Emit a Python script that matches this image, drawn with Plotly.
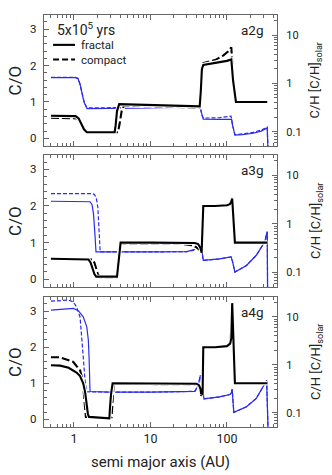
import plotly.graph_objects as go

# ---------------- data ----------------
# a2g
a2g_frac_x = [0.5, 0.95, 1.05, 1.15, 1.25, 1.35, 1.47, 3.4, 3.5, 3.65, 3.9, 10, 20, 44, 45.5, 47, 49, 60, 80, 100, 114, 120, 131, 200, 336]
a2g_frac_co = [0.62, 0.62, 0.61, 0.55, 0.40, 0.25, 0.17, 0.17, 0.35, 0.75, 0.94, 0.92, 0.90, 0.88, 1.3, 1.9, 2.02, 2.05, 2.09, 2.13, 2.17, 1.6, 1.0, 1.0, 1.0]
a2g_comp_x = [0.5, 1.0, 1.1, 1.2, 1.3, 1.4, 1.55, 3.75, 3.95, 4.2, 4.5, 10, 20, 44, 45.5, 47, 49, 70, 90, 105, 114, 120, 131, 200, 336]
a2g_comp_co = [0.57, 0.57, 0.55, 0.48, 0.34, 0.22, 0.17, 0.17, 0.4, 0.75, 0.9, 0.88, 0.87, 0.85, 1.3, 1.95, 2.07, 2.15, 2.28, 2.4, 2.5, 1.7, 1.0, 1.0, 1.0]
a2g_frac_ch_x = [0.5, 1.05, 1.13, 1.2, 1.28, 1.36, 1.48, 10, 44, 45.5, 47, 49, 80, 115, 119, 124, 127, 160, 220, 280, 336, 346]
a2g_frac_ch = [1.31, 1.31, 1.25, 0.95, 0.6, 0.4, 0.30, 0.31, 0.32, 0.28, 0.22, 0.182, 0.18, 0.18, 0.13, 0.095, 0.085, 0.087, 0.093, 0.103, 0.119, 0.03]
a2g_comp_ch_x = [0.5, 1.05, 1.13, 1.2, 1.28, 1.36, 1.48, 10, 44, 45.5, 47, 49, 80, 113, 118, 124, 127, 160, 220, 280, 336, 346]
a2g_comp_ch = [1.33, 1.33, 1.26, 0.97, 0.62, 0.41, 0.31, 0.32, 0.34, 0.29, 0.22, 0.19, 0.195, 0.21, 0.14, 0.1, 0.087, 0.09, 0.097, 0.108, 0.125, 0.03]

# a3g
a3g_frac_x = [0.5, 1.45, 1.55, 1.65, 1.75, 1.85, 1.95, 3.65, 3.75, 3.9, 4.07, 10, 30, 38, 42, 45, 46.6, 48, 49, 70, 100, 109, 113, 117, 122, 127, 200, 336]
a3g_frac_co = [0.56, 0.56, 0.54, 0.45, 0.30, 0.14, 0.07, 0.07, 0.3, 0.7, 1.0, 1.0, 1.0, 0.99, 0.96, 0.85, 0.72, 1.5, 2.0, 2.0, 2.02, 2.05, 2.1, 2.2, 1.6, 1.0, 1.0, 1.0]
a3g_comp_x = [0.5, 1.65, 1.75, 1.85, 1.95, 2.05, 2.2, 3.6, 3.7, 3.85, 4.0, 10, 25, 35, 40, 44, 46.6, 48, 49, 70, 100, 109, 113, 117, 122, 127, 200, 336]
a3g_comp_co = [0.56, 0.56, 0.54, 0.45, 0.3, 0.14, 0.05, 0.05, 0.3, 0.7, 0.98, 0.98, 0.97, 0.93, 0.87, 0.8, 0.75, 1.5, 2.0, 2.0, 2.02, 2.05, 2.1, 2.2, 1.6, 1.0, 1.0, 1.0]
a3g_frac_ch_x = [0.5, 1.5, 1.62, 1.72, 1.8, 1.88, 1.94, 10, 30, 38, 42, 45, 46.5, 48, 49, 80, 113, 118, 124, 127, 180, 242, 312, 336, 340]
a3g_frac_ch = [2.92, 2.92, 2.85, 2.5, 1.6, 0.6, 0.265, 0.265, 0.27, 0.3, 0.34, 0.4, 0.35, 0.22, 0.178, 0.19, 0.21, 0.17, 0.12, 0.102, 0.14, 0.226, 0.43, 0.69, 0.03]
a3g_comp_ch_x = [0.5, 1.7, 1.84, 1.95, 2.05, 2.12, 2.2, 10, 30, 38, 42, 45, 46.5, 48, 49, 80, 113, 118, 124, 127, 180, 242, 312, 336, 340]
a3g_comp_ch = [4.2, 4.2, 4.05, 3.5, 2.2, 0.8, 0.265, 0.265, 0.27, 0.29, 0.32, 0.36, 0.38, 0.22, 0.178, 0.19, 0.21, 0.17, 0.12, 0.102, 0.14, 0.226, 0.43, 0.69, 0.03]

# a4g
a4g_frac_x = [0.5, 0.66, 0.85, 1.08, 1.2, 1.32, 1.4, 1.46, 1.52, 1.57, 2.0, 2.5, 2.9, 2.95, 3.05, 3.2, 10, 30, 40, 43, 45, 46, 47, 48, 49, 70, 100, 110, 114, 117, 119, 122, 127, 200, 336]
a4g_frac_co = [1.5, 1.49, 1.43, 1.3, 1.2, 1.0, 0.75, 0.36, 0.15, 0.07, 0.06, 0.04, 0.03, 0.3, 0.7, 1.0, 1.0, 1.0, 0.99, 0.95, 0.85, 0.7, 0.8, 0.68, 2.0, 2.0, 2.03, 2.1, 2.25, 3.22, 2.6, 1.8, 1.0, 1.0, 1.0]
a4g_comp_x = [0.5, 0.66, 0.98, 1.2, 1.3, 1.35, 1.39, 1.43, 2.0, 2.6, 3.1, 3.15, 3.2, 3.3, 10, 30, 40, 43, 45, 46, 47, 48, 49, 70, 100, 110, 113, 115, 117, 118, 120, 122, 127, 200, 336]
a4g_comp_co = [1.72, 1.72, 1.59, 1.36, 1.09, 0.63, 0.23, 0.07, 0.06, 0.06, 0.06, 0.3, 0.7, 0.98, 0.98, 0.98, 0.97, 0.9, 0.8, 0.65, 0.75, 0.7, 2.0, 2.0, 2.03, 2.1, 2.3, 2.6, 2.4, 3.0, 2.8, 1.8, 1.0, 1.0, 1.0]
a4g_frac_ch_x = [0.5, 0.98, 1.14, 1.32, 1.47, 1.54, 1.58, 1.62, 3, 10, 38, 42, 45, 46.5, 49, 50, 80, 109, 114, 117, 120, 123, 180, 242, 330, 347]
a4g_frac_ch = [13.8, 15.0, 13.5, 10, 6.2, 3.3, 1.26, 0.278, 0.27, 0.27, 0.28, 0.37, 0.61, 0.41, 0.2, 0.195, 0.215, 0.24, 0.26, 0.31, 0.17, 0.102, 0.134, 0.2, 0.47, 0.03]
a4g_comp_ch_x = [0.5, 0.85, 0.98, 1.08, 1.2, 1.26, 1.32, 1.39, 1.46, 3, 10, 38, 42, 45, 46.5, 49, 50, 80, 109, 114, 117, 120, 123, 180, 242, 330, 347]
a4g_comp_ch = [21.2, 22.4, 20.5, 16.2, 10, 4.5, 1.49, 0.5, 0.275, 0.27, 0.27, 0.28, 0.37, 0.61, 0.41, 0.2, 0.195, 0.215, 0.24, 0.26, 0.31, 0.17, 0.102, 0.134, 0.2, 0.47, 0.03]

panel_names = ["a2g", "a3g", "a4g"]
x_tickvals = [1, 10, 100]
x_minor = [0.5, 0.6, 0.7, 0.8, 0.9, 2, 3, 4, 5, 6, 7, 8, 9, 20, 30, 40, 50, 60, 70, 80, 90, 200, 300, 400]
ch_tickvals = [0.1, 1, 10]
ch_minor = [0.06, 0.07, 0.08, 0.09, 0.2, 0.3, 0.4, 0.5, 0.6, 0.7, 0.8, 0.9,
            2, 3, 4, 5, 6, 7, 8, 9, 20]

panels = [
    (a2g_frac_x, a2g_frac_co, a2g_comp_x, a2g_comp_co, a2g_frac_ch_x, a2g_frac_ch, a2g_comp_ch_x, a2g_comp_ch),
    (a3g_frac_x, a3g_frac_co, a3g_comp_x, a3g_comp_co, a3g_frac_ch_x, a3g_frac_ch, a3g_comp_ch_x, a3g_comp_ch),
    (a4g_frac_x, a4g_frac_co, a4g_comp_x, a4g_comp_co, a4g_frac_ch_x, a4g_frac_ch, a4g_comp_ch_x, a4g_comp_ch),
]

domains = [[0.682, 1.0], [0.340, 0.660], [0.0, 0.3155]]

BLUE = "#2b2bf0"
AXC = "#666666"
TXT = "#222222"
FONT = "Roboto"

fig = go.Figure()

for i, (fx, fco, cx, cco, fchx, fch, cchx, cch) in enumerate(panels):
    n = i + 1
    xa = "x" if n == 1 else f"x{n}"
    y_ch = "y" if n == 1 else f"y{2 * n - 1}"
    y_co = f"y{2 * n}"

    # C/H (right, log) in blue
    fig.add_trace(go.Scatter(x=fchx, y=fch, xaxis=xa, yaxis=y_ch, mode="lines",
                             line=dict(color=BLUE, width=1.2), showlegend=False))
    fig.add_trace(go.Scatter(x=cchx, y=cch, xaxis=xa, yaxis=y_ch, mode="lines",
                             line=dict(color=BLUE, width=1.2, dash="4px,2px"), showlegend=False))

    # C/O (left) in black with a white halo
    for xs, ys, dash in [(cx, cco, "8px,3px"), (fx, fco, "solid")]:
        fig.add_trace(go.Scatter(x=xs, y=ys, xaxis=xa, yaxis=y_co, mode="lines",
                                 line=dict(color="white", width=4), showlegend=False))
        fig.add_trace(go.Scatter(x=xs, y=ys, xaxis=xa, yaxis=y_co, mode="lines",
                                 line=dict(color="black", width=2.1, dash=dash), showlegend=False))

    xkey = "xaxis" if n == 1 else f"xaxis{n}"
    ychkey = "yaxis" if n == 1 else f"yaxis{2 * n - 1}"
    ycokey = f"yaxis{2 * n}"

    fig.layout[xkey] = dict(
        type="log", range=[-0.392, 2.654], domain=[0, 1], anchor=y_ch,
        tickvals=x_tickvals, ticktext=["1", "10", "100"],
        showticklabels=(n == 3), ticks="inside", ticklen=5, tickcolor=AXC,
        minor=dict(ticks="inside", ticklen=2.5, tickvals=x_minor, tickcolor=AXC),
        showline=True, linecolor=AXC, linewidth=1.3, mirror="ticks",
        showgrid=False, zeroline=False, automargin=False,
        tickfont=dict(size=12.5, color=TXT, family=FONT),
        matches=None if n == 1 else "x",
    )
    fig.layout[ychkey] = dict(
        type="log", range=[-1.296, 1.414], domain=domains[i], anchor=xa,
        side="right", tickvals=ch_tickvals, ticktext=["0.1", "1", "10"],
        ticks="inside", ticklen=5, tickcolor=AXC,
        minor=dict(ticks="inside", ticklen=2.5, tickvals=ch_minor, tickcolor=AXC),
        showline=True, linecolor=AXC, linewidth=1.3, automargin=False,
        showgrid=False, zeroline=False, ticklabelstandoff=6,
        tickfont=dict(size=11, color=TXT, family=FONT),
    )
    fig.layout[ycokey] = dict(
        range=[-0.21, 3.39], overlaying=y_ch, anchor=xa, side="left",
        tickvals=[0, 1, 2, 3], ticks="inside", ticklen=5, tickcolor=AXC,
        minor=dict(ticks="inside", ticklen=2.5, dtick=0.2, tickcolor=AXC),
        showline=True, linecolor=AXC, linewidth=1.3, automargin=False,
        showgrid=False, zeroline=False, ticklabelstandoff=4,
        tickfont=dict(size=11.5, color=TXT, family=FONT),
    )

    ydom = f"{y_ch} domain"
    fig.add_annotation(xref="paper", yref=ydom, x=0, y=0.5, xshift=-29,
                       xanchor="center", yanchor="middle",
                       text="C/O", textangle=-90, showarrow=False,
                       font=dict(size=17, color=TXT, family=FONT))
    fig.add_annotation(xref="paper", yref=ydom, x=1, y=0.5, xshift=39,
                       xanchor="center", yanchor="middle",
                       text="C/H [C/H]<sub>solar</sub>", textangle=-90, showarrow=False,
                       font=dict(size=13, color=TXT, family=FONT))
    fig.add_annotation(xref="paper", yref=ydom, x=1, y=1, xshift=-11, yshift=-5,
                       xanchor="right", yanchor="top", text=panel_names[i], showarrow=False,
                       font=dict(size=13.5, color=TXT, family=FONT))

# legend drawn by hand in the top panel
fig.add_annotation(xref="x domain", yref="y domain", x=0.047, y=0.89,
                   xanchor="left", yanchor="middle", text="5x10<sup>5</sup> yrs",
                   showarrow=False, font=dict(size=14, color=TXT, family=FONT))
for yy, label, dash in [(0.772, "fractal", "solid"), (0.660, "compact", "6px,3px")]:
    fig.add_shape(type="line", xref="x domain", yref="y domain",
                  x0=0.039, x1=0.133, y0=yy, y1=yy,
                  line=dict(color="black", width=2.1, dash=dash))
    fig.add_annotation(xref="x domain", yref="y domain", x=0.150, y=yy,
                       xanchor="left", yanchor="middle", text=label, showarrow=False,
                       font=dict(size=11.5, color=TXT, family=FONT))

fig.add_annotation(xref="paper", yref="paper", x=0.5, y=0, yshift=-24,
                   xanchor="center", yanchor="top", text="semi major axis (AU)",
                   showarrow=False, font=dict(size=15, color=TXT, family=FONT))

fig.update_layout(
    width=332, height=475,
    margin=dict(l=44, r=55, t=15, b=48, autoexpand=False),
    paper_bgcolor="white", plot_bgcolor="white",
    showlegend=False,
    font=dict(family=FONT, color=TXT),
)

# the page body has a default 8px margin; drop it so the figure sits at (0, 0)
fig.write_html("out.html", config={"displayModeBar": False},
               post_script="document.body.style.margin='0px';")
